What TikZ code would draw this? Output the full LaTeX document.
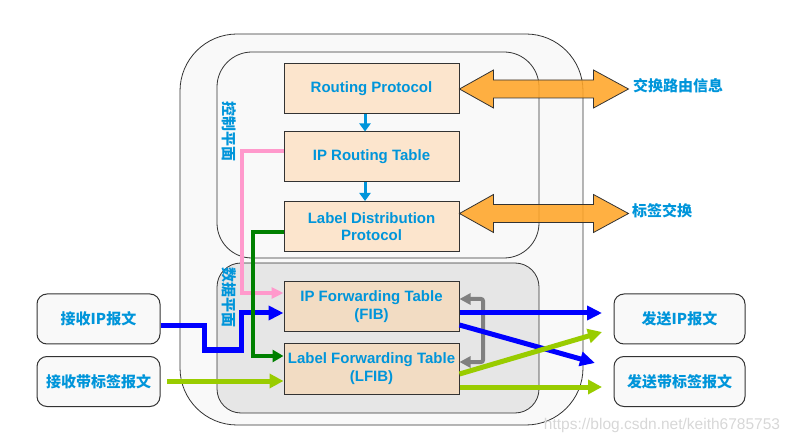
\documentclass[tikz,border=0pt]{standalone}
\usepackage{fontspec}
\setmainfont{Liberation Sans}
\newfontfamily\cjk{Noto Sans CJK SC}
\usetikzlibrary{arrows.meta,calc}
\definecolor{tblue}{RGB}{0,149,218}
\definecolor{peach}{RGB}{252,229,205}
\definecolor{peachb}{RGB}{242,220,195}
\definecolor{paper}{RGB}{249,249,249}
\definecolor{dgray}{RGB}{230,230,230}
\definecolor{edge}{RGB}{51,51,51}
\definecolor{orng}{RGB}{255,165,40}
\definecolor{pinkc}{RGB}{255,153,204}
\definecolor{greenc}{RGB}{0,128,0}
\definecolor{bluec}{RGB}{0,0,255}
\definecolor{ygc}{RGB}{153,204,0}
\definecolor{grayc}{RGB}{128,128,128}
\definecolor{wmc}{RGB}{215,215,215}
\begin{document}
\begin{tikzpicture}[x=1pt,y=-1pt,
  tbox/.style={draw=edge, line width=1pt, fill=peach, minimum width=175pt, minimum height=50pt,
    inner sep=0pt, text=tblue, align=center, font=\bfseries\fontsize{15}{18}\selectfont},
  fbox/.style={tbox, fill=peachb},
  pbox/.style={draw=edge, line width=1pt, fill=paper, rounded corners=10pt, minimum width=123pt,
    minimum height=50pt, inner sep=0pt, text=tblue, font=\cjk\bfseries\fontsize{15}{18}\selectfont},
  plane/.style={draw=edge, line width=0.8pt, fill=paper, inner sep=0pt},
  plabel/.style={rotate=-90, text=tblue, inner sep=0pt, font=\cjk\bfseries\fontsize{15}{15}\selectfont},
  olabel/.style={anchor=west, text=tblue, inner sep=0pt, font=\cjk\bfseries\fontsize{15}{15}\selectfont},
  orangearr/.style={draw=edge, line width=0.8pt, fill=orng, fill opacity=0.88, line join=miter},
  smallarr/.style={draw=tblue, line width=3pt, -{Triangle[length=8pt,width=11pt]}},
  pinkl/.style={draw=pinkc, line width=3.5pt, -{Triangle[length=12pt,width=11pt]}},
  greenl/.style={draw=greenc, line width=4pt, -{Triangle[length=11pt,width=12pt]}},
  bluel/.style={draw=bluec, line width=5pt, -{Triangle[length=15pt,width=14pt]}},
  ygl/.style={draw=ygc, line width=5pt, -{Triangle[length=14pt,width=14pt]}},
  grayl/.style={draw=grayc, line width=4pt, rounded corners=2pt, {Triangle[length=11pt,width=11pt]}-{Triangle[length=11pt,width=11pt]}}
]
\useasboundingbox (0,0) rectangle (792,443);

% containers
\node[plane, rounded corners=57pt, minimum width=403pt, minimum height=391pt] (outer) at (381.5,229.5) {};
\node[plane, rounded corners=35pt, minimum width=322pt, minimum height=206pt] (cplane) at (378,155) {};
\node[plane, fill=dgray, rounded corners=24pt, minimum width=322pt, minimum height=150pt] (dplane) at (378,338) {};
\node[plabel] (cpl) at (229,132) {控制平面};
\node[plabel] (dpl) at (229,298) {数据平面};

% boxes
\node[tbox] (rp) at (371.5,89) {Routing Protocol};
\node[tbox] (irt) at (371.5,157) {IP Routing Table};
\node[tbox] (ldp) at (371.5,226.5) {Label Distribution\\[-1pt]Protocol};
\node[fbox] (fib) at (371.5,306.5) {IP Forwarding Table\\(FIB)};
\node[fbox] (lfib) at (371.5,369) {Label Forwarding Table\\(LFIB)};

\node[pbox] (in1) at (98.5,319) {接收IP报文};
\node[pbox] (in2) at (98.5,381.5) {接收带标签报文};
\node[pbox, minimum width=131pt] (out1) at (679.5,319) {发送IP报文};
\node[pbox, minimum width=131pt] (out2) at (679.5,381.5) {发送带标签报文};

% control plane arrows
\draw[smallarr] ([xshift=-6.5pt]rp.south) -- ([xshift=-6.5pt]irt.north);
\draw[smallarr] ([xshift=-6.5pt]irt.south) -- ([xshift=-6.5pt]ldp.north);

% orange double arrows
\draw[orangearr] (rp.east) -- ++(34,-19) -- ++(0,10) -- ++(100,0) -- ++(0,-10) -- ++(35,19)
  -- ++(-35,19) -- ++(0,-10) -- ++(-100,0) -- ++(0,10) -- cycle;
\draw[orangearr] ($(ldp.east)+(0,-13)$) -- ++(34,-19) -- ++(0,10) -- ++(100,0) -- ++(0,-10) -- ++(35,19)
  -- ++(-35,19) -- ++(0,-10) -- ++(-100,0) -- ++(0,10) -- cycle;
\node[olabel] (ex1) at (633,86) {交换路由信息};
\node[olabel] (ex2) at (632,211) {标签交换};

% coordinates
\coordinate (p1) at (242,293);
\coordinate (g1) at (253,356);
\coordinate (b0) at (204,350);
\coordinate (b1) at (241,313);
\coordinate (yg0) at (167,381);
\coordinate (o1) at (602,313);
\coordinate (o2) at (595,363);
\coordinate (o3) at (602,332);
\coordinate (o4) at (602,387);
\coordinate (gr) at (483,299);

% connectors
\draw[pinkl] ($(irt.west)+(0,-6)$) -| (p1) -- (p1 -| fib.west);
\draw[bluel] ($(in1.east)+(0,7)$) -| (b0) -| (b1) -- (b1 -| fib.west);
\draw[greenl] ($(ldp.west)+(0,5.5)$) -| (g1) -- (g1 -| lfib.west);
\draw[ygl] (yg0) -- (yg0 -| lfib.west);

\draw[grayl] ($(fib.east)+(0,-7.5)$) -- (gr) -- (gr |- 0,362) -- ($(lfib.east)+(0,-7)$);

\draw[bluel] (o1 -| fib.east) -- (o1);
\draw[bluel] ($(fib.east)+(0,18.5)$) -- (o2);
\draw[ygl] ($(lfib.east)+(0,5)$) -- (o3);
\draw[ygl] (o4 -| lfib.east) -- (o4);

% watermark
\node[text=wmc, inner sep=0pt, font=\mdseries\fontsize{15.5}{18}\selectfont] (wm) at (662,425) {https://blog.csdn.net/keith6785753};
\end{tikzpicture}
\end{document}
